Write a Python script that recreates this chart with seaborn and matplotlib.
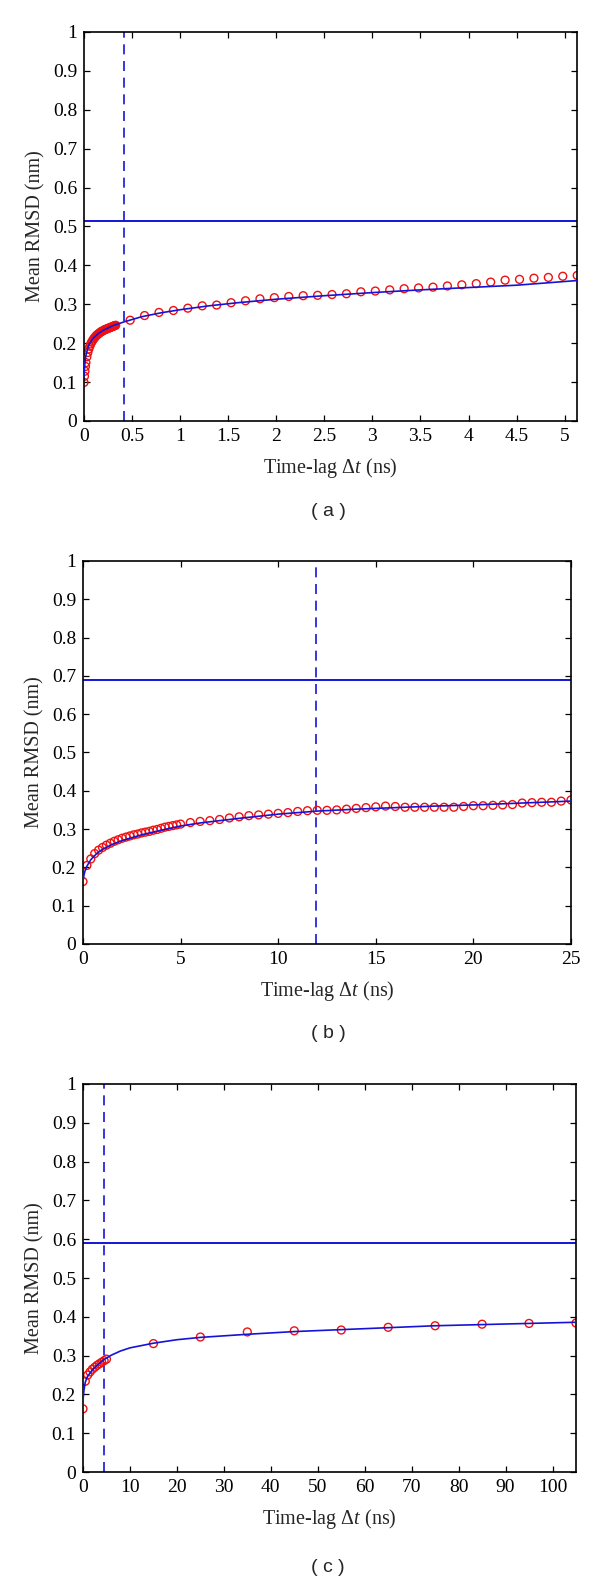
import seaborn as sns
import matplotlib.pyplot as plt
import numpy as np
import pandas as pd

# ---- panel (a) data ----
a_dense_x = [0, 0.005, 0.01, 0.015, 0.02, 0.03, 0.04, 0.05, 0.06, 0.07, 0.08, 0.09, 0.10,
             0.11, 0.12, 0.13, 0.14, 0.15, 0.16, 0.17, 0.18, 0.19, 0.20, 0.21, 0.22, 0.23,
             0.24, 0.25, 0.26, 0.27, 0.28, 0.29, 0.30, 0.31, 0.32, 0.33]
a_dense_y = [0.099, 0.115, 0.128, 0.14, 0.15, 0.165, 0.176, 0.185, 0.192, 0.198, 0.203, 0.207,
             0.211, 0.214, 0.217, 0.22, 0.222, 0.224, 0.226, 0.228, 0.23, 0.231, 0.232, 0.234,
             0.235, 0.236, 0.237, 0.238, 0.239, 0.24, 0.241, 0.242, 0.243, 0.244, 0.245, 0.246]
a_x = [0.48, 0.63, 0.78, 0.93, 1.08, 1.23, 1.38, 1.53, 1.68, 1.83, 1.98, 2.13, 2.28, 2.43,
       2.58, 2.73, 2.88, 3.03, 3.18, 3.33, 3.48, 3.63, 3.78, 3.93, 4.08, 4.23, 4.38, 4.53,
       4.68, 4.83, 4.98, 5.13]
a_y = [0.259, 0.271, 0.279, 0.284, 0.290, 0.296, 0.298, 0.304, 0.309, 0.314, 0.317, 0.320,
       0.322, 0.323, 0.325, 0.327, 0.332, 0.334, 0.337, 0.340, 0.342, 0.344, 0.347, 0.350,
       0.353, 0.357, 0.362, 0.364, 0.367, 0.369, 0.372, 0.374]
a_fit_x = [0, 0.005, 0.01, 0.02, 0.04, 0.06, 0.1, 0.15, 0.2, 0.3, 0.42, 0.6, 0.8, 1.0,
           1.3, 1.6, 2.0, 2.5, 3.0, 3.5, 4.0, 4.5, 5.13]
a_fit_y = [0.115, 0.135, 0.15, 0.168, 0.188, 0.2, 0.214, 0.225, 0.233, 0.245, 0.255, 0.268,
           0.278, 0.286, 0.296, 0.304, 0.313, 0.322, 0.33, 0.337, 0.343, 0.349, 0.361]
a_vline, a_hline = 0.415, 0.515

# ---- panel (b) data ----
b_dense_x = [0, 0.2, 0.4, 0.6, 0.8, 1.0, 1.2, 1.4, 1.6, 1.8, 2.0, 2.2, 2.4, 2.6, 2.8, 3.0,
             3.2, 3.4, 3.6, 3.8, 4.0, 4.2, 4.4, 4.6, 4.8, 5.0]
b_dense_y = [0.163, 0.205, 0.222, 0.236, 0.245, 0.252, 0.258, 0.263, 0.268, 0.272, 0.276,
             0.279, 0.282, 0.285, 0.287, 0.290, 0.292, 0.294, 0.297, 0.299, 0.302, 0.305,
             0.307, 0.309, 0.311, 0.313]
b_x = [5.5, 6.0, 6.5, 7.0, 7.5, 8.0, 8.5, 9.0, 9.5, 10.0, 10.5, 11.0, 11.5, 12.0, 12.5,
       13.0, 13.5, 14.0, 14.5, 15.0, 15.5, 16.0, 16.5, 17.0, 17.5, 18.0, 18.5, 19.0, 19.5,
       20.0, 20.5, 21.0, 21.5, 22.0, 22.5, 23.0, 23.5, 24.0, 24.5, 25.0]
b_y = [0.317, 0.320, 0.322, 0.325, 0.329, 0.332, 0.335, 0.337, 0.339, 0.341, 0.343, 0.346,
       0.348, 0.349, 0.349, 0.350, 0.352, 0.354, 0.356, 0.358, 0.360, 0.359, 0.357, 0.357,
       0.357, 0.357, 0.357, 0.357, 0.359, 0.361, 0.361, 0.362, 0.363, 0.364, 0.368, 0.369,
       0.370, 0.370, 0.373, 0.376]
b_fit_x = [0, 0.05, 0.1, 0.2, 0.4, 0.7, 1, 1.5, 2, 3, 4, 5, 6, 8, 10, 12, 14, 16, 18, 20, 22, 25]
b_fit_y = [0.163, 0.18, 0.19, 0.203, 0.22, 0.236, 0.247, 0.26, 0.27, 0.285, 0.297, 0.308,
           0.316, 0.328, 0.339, 0.347, 0.352, 0.356, 0.36, 0.363, 0.367, 0.373]
b_vline, b_hline = 11.92, 0.69

# ---- panel (c) data ----
c_dense_x = [0, 0.5, 1.0, 1.5, 2.0, 2.5, 3.0, 3.5, 4.0, 4.5, 5.0]
c_dense_y = [0.163, 0.234, 0.25, 0.258, 0.265, 0.27, 0.275, 0.279, 0.283, 0.287, 0.291]
c_x = [15, 25, 35, 45, 55, 65, 75, 85, 95, 105]
c_y = [0.331, 0.348, 0.361, 0.364, 0.366, 0.373, 0.377, 0.381, 0.383, 0.384]
c_fit_x = [0, 0.05, 0.2, 0.5, 1, 2, 3, 4.5, 6, 8, 10, 15, 20, 25, 35, 45, 55, 65, 75, 85, 95, 105]
c_fit_y = [0.163, 0.19, 0.21, 0.232, 0.247, 0.263, 0.275, 0.29, 0.301, 0.312, 0.32, 0.332,
           0.341, 0.347, 0.355, 0.362, 0.367, 0.372, 0.377, 0.38, 0.383, 0.386]
c_vline, c_hline = 4.56, 0.589

y_ticks = [0, 0.1, 0.2, 0.3, 0.4, 0.5, 0.6, 0.7, 0.8, 0.9, 1]
y_ticklabels = ['0', '0.1', '0.2', '0.3', '0.4', '0.5', '0.6', '0.7', '0.8', '0.9', '1']

sns.set_style('ticks')
plt.rcParams['font.family'] = ['Liberation Serif', 'DejaVu Serif']
plt.rcParams['mathtext.fontset'] = 'custom'
plt.rcParams['mathtext.rm'] = 'Liberation Serif'
plt.rcParams['mathtext.it'] = 'Liberation Serif:italic'

RED = '#f01010'
BLUE = '#1414d8'

fig = plt.figure(figsize=(6, 15.82), dpi=100)

panels = [
    dict(rect=[0.140, 0.7339, 0.822, 0.2459], dense=(a_dense_x, a_dense_y), pts=(a_x, a_y),
         fit=(a_fit_x, a_fit_y), v=a_vline, h=a_hline, xlim=5.13,
         xticks=[0, 0.5, 1, 1.5, 2, 2.5, 3, 3.5, 4, 4.5, 5],
         xlabels=['0', '0.5', '1', '1.5', '2', '2.5', '3', '3.5', '4', '4.5', '5'],
         tag='( a )', tag_y=1 - 512 / 1582),
    dict(rect=[0.1383, 0.4033, 0.8133, 0.2421], dense=(b_dense_x, b_dense_y), pts=(b_x, b_y),
         fit=(b_fit_x, b_fit_y), v=b_vline, h=b_hline, xlim=25,
         xticks=[0, 5, 10, 15, 20, 25], xlabels=['0', '5', '10', '15', '20', '25'],
         tag='( b )', tag_y=1 - 1033 / 1582),
    dict(rect=[0.1383, 0.0695, 0.8217, 0.2453], dense=(c_dense_x, c_dense_y), pts=(c_x, c_y),
         fit=(c_fit_x, c_fit_y), v=c_vline, h=c_hline, xlim=105,
         xticks=[0, 10, 20, 30, 40, 50, 60, 70, 80, 90, 100],
         xlabels=['0', '10', '20', '30', '40', '50', '60', '70', '80', '90', '100'],
         tag='( c )', tag_y=1 - 1567 / 1582),
]

for p in panels:
    ax = fig.add_axes(p['rect'])
    pts = pd.DataFrame({'x': list(p['dense'][0]) + list(p['pts'][0]),
                        'y': list(p['dense'][1]) + list(p['pts'][1])})
    fit = pd.DataFrame({'x': p['fit'][0], 'y': p['fit'][1]})

    ax.axhline(p['h'], color=BLUE, lw=1.4, zorder=1)
    ax.axvline(p['v'], color=BLUE, lw=1.2, ls=(0, (6, 4)), zorder=1)
    sns.scatterplot(data=pts, x='x', y='y', ax=ax, marker='o', s=32,
                    facecolor='none', edgecolor=RED, linewidth=1.0, zorder=2)
    sns.lineplot(data=fit, x='x', y='y', ax=ax, color=BLUE, lw=1.2, zorder=3)

    ax.set_xlim(0, p['xlim'])
    ax.set_ylim(0, 1)
    ax.set_xticks(p['xticks'])
    ax.set_xticklabels(p['xlabels'])
    ax.set_yticks(y_ticks)
    ax.set_yticklabels(y_ticklabels)
    ax.tick_params(direction='in', top=True, right=True, length=4, width=0.9,
                   labelsize=14, pad=5, colors='black')
    for s in ax.spines.values():
        s.set_visible(True)
        s.set_linewidth(1.2)
        s.set_color('black')
    ax.set_xlabel(r'Time-lag $\Delta t$ (ns)', fontsize=14.5, labelpad=8)
    ax.set_ylabel('Mean RMSD (nm)', fontsize=14.5, labelpad=5)
    fig.text(0.547, p['tag_y'], p['tag'], ha='center', va='center',
             fontsize=14, family=['Liberation Sans', 'DejaVu Sans'])

fig.savefig('out.png', dpi=100, facecolor='white')
